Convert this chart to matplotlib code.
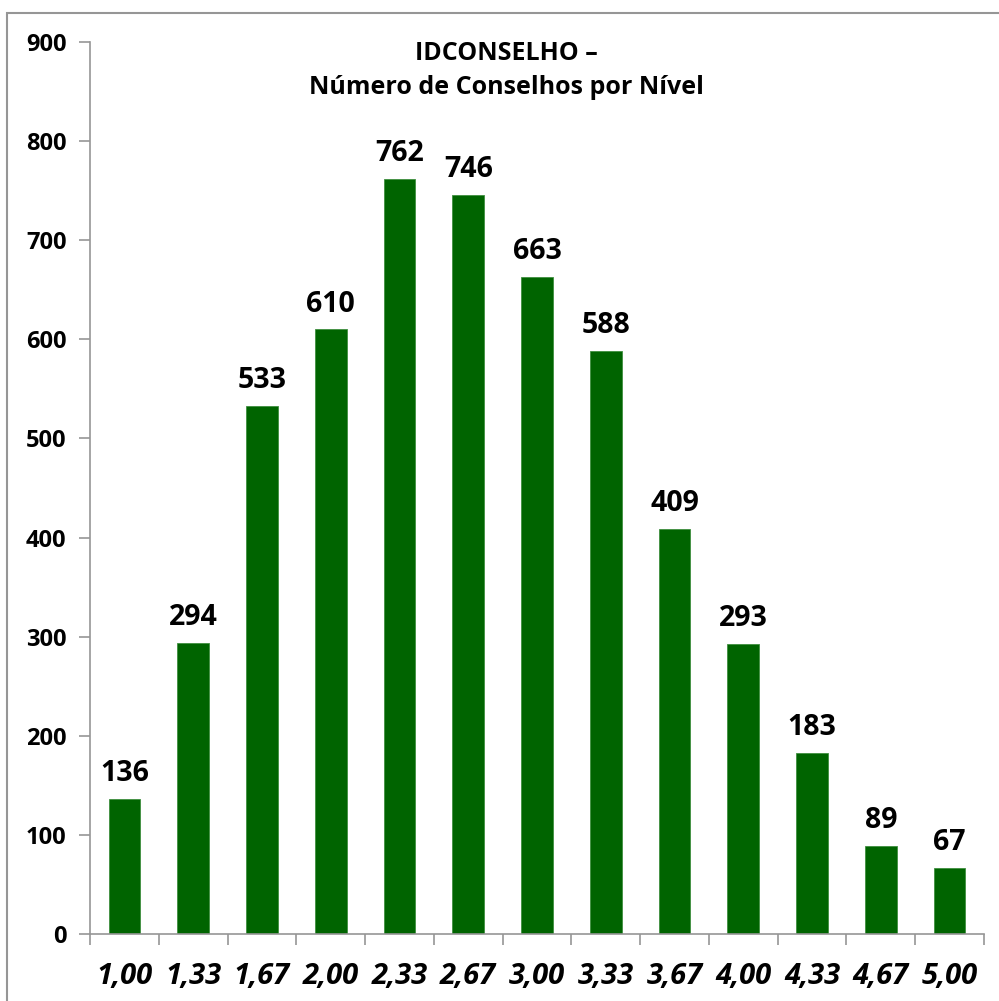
import matplotlib.pyplot as plt
from matplotlib.patches import Rectangle

niveis = ["1,00", "1,33", "1,67", "2,00", "2,33", "2,67", "3,00",
          "3,33", "3,67", "4,00", "4,33", "4,67", "5,00"]
conselhos = [136, 294, 533, 610, 762, 746, 663, 588, 409, 293, 183, 89, 67]

verde = "#006400"
cinza = "#969696"
plt.rcParams['font.family'] = ['Open Sans', 'DejaVu Sans']

fig = plt.figure(figsize=(9.99, 10.01), dpi=100)
ax = fig.add_axes([90 / 999, 1 - 934 / 1001, 894 / 999, 892 / 1001])

# borda do grafico (estilo Excel)
fig.patches.append(Rectangle((7 / 999, -0.05), 1.1, 1 - 13 / 1001 + 0.05,
                             transform=fig.transFigure, fill=False,
                             edgecolor=cinza, linewidth=1.5))

x = list(range(len(niveis)))
ax.bar(x, conselhos, width=0.46, color=verde, edgecolor="#3f8f3f", linewidth=0.6)

for xi, v in zip(x, conselhos):
    ax.text(xi, v + 11, str(v), ha="center", va="bottom",
            fontsize=20.5, fontweight="bold")

ax.set_xlim(-0.5, len(niveis) - 0.5)
ax.set_ylim(0, 900)
ax.set_yticks(range(0, 901, 100))
ax.tick_params(axis="y", labelsize=17, length=8, width=1.2, color=cinza, pad=9)
for t in ax.get_yticklabels():
    t.set_fontweight("bold")

# ticks do eixo x entre as categorias, rotulos no centro
ax.set_xticks([i - 0.5 for i in range(len(niveis) + 1)])
ax.set_xticklabels([])
ax.set_xticks(x, minor=True)
ax.set_xticklabels(niveis, minor=True, fontsize=21, fontweight="bold", style="italic")
ax.tick_params(axis="x", which="major", length=8, width=1.2, color=cinza)
ax.tick_params(axis="x", which="minor", length=0, pad=20)

for s in ["top", "right"]:
    ax.spines[s].set_visible(False)
for s in ["left", "bottom"]:
    ax.spines[s].set_color(cinza)
    ax.spines[s].set_linewidth(1.2)

fig.text(0.507, 1 - 53 / 1001, "IDCONSELHO –", ha="center", va="center",
         fontsize=18, fontweight="bold")
fig.text(0.507, 1 - 88 / 1001, "Número de Conselhos por Nível", ha="center", va="center",
         fontsize=18, fontweight="bold")

fig.savefig("out.png", dpi=100)
